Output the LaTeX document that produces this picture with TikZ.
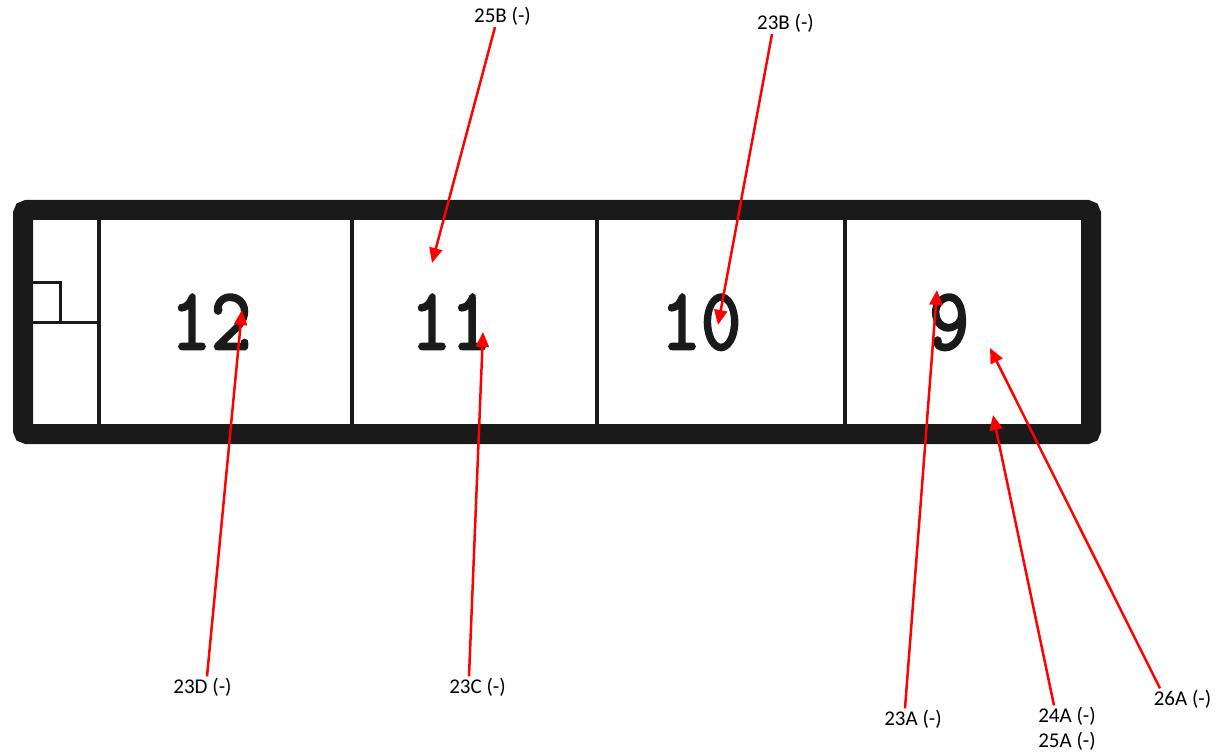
\documentclass[tikz,border=0pt]{standalone}
\usepackage{fontspec}
\setmainfont{Carlito}
\newfontfamily\digitfont{Latin Modern Mono}[FakeBold=3]
\usetikzlibrary{arrows.meta}
\definecolor{ink}{HTML}{1A1A1A}
\tikzset{
  frame/.style={line width=20pt, draw=ink, rounded corners=4pt},
  divider/.style={line width=3.5pt, draw=ink},
  pinnum/.style={anchor=base, inner sep=0pt, text=ink, font=\digitfont\fontsize{78}{78}\selectfont},
  lbl/.style={anchor=base, inner sep=1pt, font=\fontsize{21}{24}\selectfont},
  pointer/.style={draw=red, line width=2.5pt, -{Triangle[length=15pt,width=13pt]}},
}
\begin{document}
\begin{tikzpicture}[x=1pt,y=-1pt]
\useasboundingbox (0,0) rectangle (1216,754);
% connector housing
\draw[frame] (23,210) rectangle (1091,434);
\draw[divider] (99,220) -- (99,424);
\draw[divider] (352,220) -- (352,424);
\draw[divider] (597,220) -- (597,424);
\draw[divider] (845,220) -- (845,424);
\draw[divider, line width=3pt] (33,322) -- (99,322);
\draw[divider, line width=3pt] (33,283) -- (60,283) -- (60,322);
% pin numbers
\node[pinnum] (n12) at (211,349) {\scalebox{1}[1.12]{12}};
\node[pinnum] (n11) at (451,349) {\scalebox{1}[1.12]{11}};
\node[pinnum] (n10) at (701,349) {\scalebox{1}[1.12]{10}};
\node[pinnum] (n9) at (949,349) {\scalebox{1}[1.12]{9}};
% arrow heads
\coordinate (h25B) at (432,263);
\coordinate (h23B) at (718,325);
\coordinate (h23D) at (242,310);
\coordinate (h23C) at (483,332);
\coordinate (h23A) at (937,290);
\coordinate (h24A) at (993,415);
\coordinate (h26A) at (990,348);
% labels
\node[lbl] (l25B) at (502.5,23) {25B (-)};
\node[lbl] (l23B) at (785.5,30) {23B (-)};
\node[lbl] (l23D) at (202.5,693) {23D (-)};
\node[lbl] (l23C) at (477.5,693) {23C (-)};
\node[lbl] (l23A) at (913,725) {23A (-)};
\node[lbl] (l24A) at (1067,722) {24A (-)};
\node[lbl] (l25A) at (1067,747) {25A (-)};
\node[lbl] (l26A) at (1182.5,705) {26A (-)};
% pointers
\draw[pointer] ([xshift=-7.5pt]l25B.south) -- (h25B);
\draw[pointer] ([xshift=-13.5pt]l23B.south) -- (h23B);
\draw[pointer] ([xshift=4.5pt]l23D.north) -- (h23D);
\draw[pointer] ([xshift=-8.5pt]l23C.north) -- (h23C);
\draw[pointer] ([xshift=-8pt]l23A.north) -- (h23A);
\draw[pointer] ([xshift=-13pt]l24A.north) -- (h24A);
\draw[pointer] ([xshift=-22.5pt]l26A.north) -- (h26A);
\end{tikzpicture}
\end{document}
